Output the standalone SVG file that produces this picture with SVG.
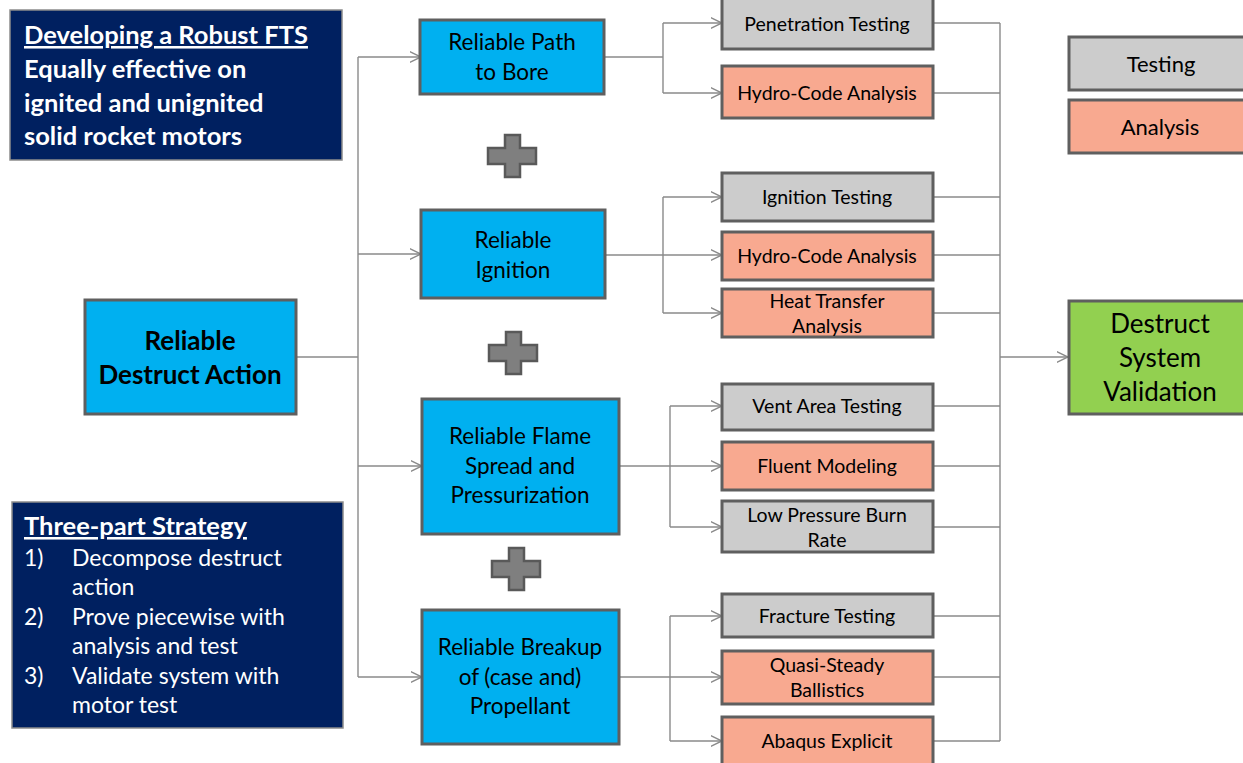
<svg xmlns="http://www.w3.org/2000/svg" width="1243" height="763" viewBox="0 0 1243 763">
<style>
text{font-family:Lato,"Open Sans","Liberation Sans",sans-serif;}
.navy{fill:#002060;stroke:#8c8c8c;stroke-width:1.5}
.wt{fill:#fff;font-size:25.5px}
.b{font-weight:bold}
.blue{fill:#00b0f0;stroke:#5f5f5f;stroke-width:3}
.grey{fill:#cccccc;stroke:#5f5f5f;stroke-width:3}
.sal{fill:#f8a990;stroke:#5f5f5f;stroke-width:3}
.green{fill:#92d050;stroke:#5f5f5f;stroke-width:3}
.t{fill:#000;text-anchor:middle}
.m{font-size:22.5px}
.s{font-size:19.5px}
.conn{fill:none;stroke:#8a8a8a;stroke-width:1.4}
.plus{fill:#7f7f7f;stroke:#595959;stroke-width:2.5}
</style>
<defs>
<marker id="arr" viewBox="0 0 12 12" refX="11.5" refY="6" markerWidth="12" markerHeight="12" markerUnits="userSpaceOnUse" orient="auto">
<path d="M0,0.5 L11.5,6 L0,11.5" fill="none" stroke="#8a8a8a" stroke-width="1.4"/>
</marker>
</defs>

<g id="connectors">
<path class="conn" d="M296,357 H358"/>
<path class="conn" d="M358,57 V677"/>
<path class="conn" d="M358,57 H421" marker-end="url(#arr)"/>
<path class="conn" d="M358,254 H421" marker-end="url(#arr)"/>
<path class="conn" d="M358,466 H422" marker-end="url(#arr)"/>
<path class="conn" d="M358,677 H422" marker-end="url(#arr)"/>

<path class="conn" d="M604,57 H663 M663,23 V93"/>
<path class="conn" d="M663,23 H722" marker-end="url(#arr)"/>
<path class="conn" d="M663,93 H722" marker-end="url(#arr)"/>

<path class="conn" d="M605,255 H663 M663,197 V313"/>
<path class="conn" d="M663,197 H722" marker-end="url(#arr)"/>
<path class="conn" d="M663,255 H722" marker-end="url(#arr)"/>
<path class="conn" d="M663,313 H722" marker-end="url(#arr)"/>

<path class="conn" d="M619,466 H670 M670,406 V527"/>
<path class="conn" d="M670,406 H722" marker-end="url(#arr)"/>
<path class="conn" d="M670,466 H722" marker-end="url(#arr)"/>
<path class="conn" d="M670,527 H722" marker-end="url(#arr)"/>

<path class="conn" d="M619,677 H670 M670,616 V741"/>
<path class="conn" d="M670,616 H722" marker-end="url(#arr)"/>
<path class="conn" d="M670,677 H722" marker-end="url(#arr)"/>
<path class="conn" d="M670,741 H722" marker-end="url(#arr)"/>

<path class="conn" d="M933,23 H1000 M933,93 H1000 M933,197 H1000 M933,255 H1000 M933,313 H1000 M933,406 H1000 M933,466 H1000 M933,527 H1000 M933,616 H1000 M933,677 H1000 M933,741 H1000 M1000,23 V741"/>
<path class="conn" d="M1000,357 H1068" marker-end="url(#arr)"/>
</g>

<g id="goal">
<rect class="navy" x="10" y="10" width="332" height="150"/>
<text class="wt b" x="24" y="44" text-decoration="underline">Developing a Robust FTS</text>
<text class="wt b" x="24" y="78">Equally effective on</text>
<text class="wt b" x="24" y="112">ignited and unignited</text>
<text class="wt b" x="24" y="145">solid rocket motors</text>
</g>

<g id="strategy">
<rect class="navy" x="12" y="502" width="331" height="226"/>
<text class="wt b" x="24" y="535" text-decoration="underline">Three-part Strategy</text>
<g class="wt" style="font-size:23px">
<text x="24" y="566">1)</text><text x="72" y="566">Decompose destruct</text>
<text x="72" y="595">action</text>
<text x="24" y="625">2)</text><text x="72" y="625">Prove piecewise with</text>
<text x="72" y="654">analysis and test</text>
<text x="24" y="684">3)</text><text x="72" y="684">Validate system with</text>
<text x="72" y="713">motor test</text>
</g>
</g>

<g id="main">
<rect class="blue" x="85" y="300" width="211" height="114"/>
<text class="t b" style="font-size:26px" x="190" y="350">Reliable</text>
<text class="t b" style="font-size:26px" x="190" y="384">Destruct Action</text>
</g>

<g id="path-to-bore">
<rect class="blue" x="420" y="20" width="184" height="74"/>
<text class="t m" x="512" y="50">Reliable Path</text>
<text class="t m" x="512" y="80">to Bore</text>
</g>
<g id="ignition">
<rect class="blue" x="421" y="210" width="184" height="88"/>
<text class="t m" x="513" y="248">Reliable</text>
<text class="t m" x="513" y="278">Ignition</text>
</g>
<g id="flame">
<rect class="blue" x="422" y="399" width="197" height="135"/>
<text class="t m" x="520" y="444">Reliable Flame</text>
<text class="t m" x="520" y="474">Spread and</text>
<text class="t m" x="520" y="503">Pressurization</text>
</g>
<g id="breakup">
<rect class="blue" x="422" y="610" width="197" height="134"/>
<text class="t m" x="520" y="655">Reliable Breakup</text>
<text class="t m" x="520" y="685">of (case and)</text>
<text class="t m" x="520" y="714">Propellant</text>
</g>

<g id="plus1"><path class="plus" d="M505,135 H520 V148 H536 V164 H520 V177 H505 V164 H488 V148 H505 Z"/></g>
<g id="plus2"><path class="plus" d="M506,332 H521 V345 H537 V361 H521 V374 H506 V361 H489 V345 H506 Z"/></g>
<g id="plus3"><path class="plus" d="M509,548 H524 V561 H540 V577 H524 V590 H509 V577 H492 V561 H509 Z"/></g>

<g id="penetration"><rect class="grey" x="722" y="-3" width="211" height="52"/><text class="t s" x="827" y="31">Penetration Testing</text></g>
<g id="hydro1"><rect class="sal" x="722" y="66" width="211" height="52"/><text class="t s" x="827" y="100">Hydro-Code Analysis</text></g>
<g id="ign-test"><rect class="grey" x="722" y="173" width="211" height="48"/><text class="t s" x="827" y="204">Ignition Testing</text></g>
<g id="hydro2"><rect class="sal" x="722" y="232" width="211" height="48"/><text class="t s" x="827" y="263">Hydro-Code Analysis</text></g>
<g id="heat"><rect class="sal" x="722" y="289" width="211" height="48"/><text class="t s" x="827" y="308">Heat Transfer</text><text class="t s" x="827" y="333">Analysis</text></g>
<g id="vent"><rect class="grey" x="722" y="384" width="211" height="46"/><text class="t s" x="827" y="413">Vent Area Testing</text></g>
<g id="fluent"><rect class="sal" x="722" y="442" width="211" height="48"/><text class="t s" x="827" y="473">Fluent Modeling</text></g>
<g id="lowpress"><rect class="grey" x="722" y="501" width="211" height="51"/><text class="t s" x="827" y="522">Low Pressure Burn</text><text class="t s" x="827" y="547">Rate</text></g>
<g id="fracture"><rect class="grey" x="722" y="594" width="211" height="43"/><text class="t s" x="827" y="623">Fracture Testing</text></g>
<g id="quasi"><rect class="sal" x="722" y="651" width="211" height="53"/><text class="t s" x="827" y="672">Quasi-Steady</text><text class="t s" x="827" y="697">Ballistics</text></g>
<g id="abaqus"><rect class="sal" x="722" y="717" width="211" height="50"/><text class="t s" x="827" y="748">Abaqus Explicit</text></g>

<g id="legend-testing"><rect class="grey" x="1069" y="37" width="190" height="53"/><text class="t" style="font-size:22px" x="1161" y="72">Testing</text></g>
<g id="legend-analysis"><rect class="sal" x="1069" y="100" width="190" height="53"/><text class="t" style="font-size:22px" x="1160" y="135">Analysis</text></g>

<g id="validation">
<rect class="green" x="1069" y="301" width="190" height="113"/>
<text class="t" style="font-size:26px" x="1160" y="333">Destruct</text>
<text class="t" style="font-size:26px" x="1160" y="367">System</text>
<text class="t" style="font-size:26px" x="1160" y="401">Validation</text>
</g>
</svg>
